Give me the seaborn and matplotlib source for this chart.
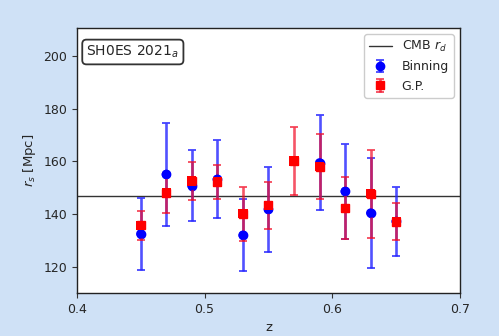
import matplotlib
matplotlib.use("Agg")
import matplotlib.pyplot as plt
import seaborn as sns
import pandas as pd

# Binning
z_bin = [0.45, 0.47, 0.49, 0.51, 0.53, 0.55, 0.59, 0.61, 0.63, 0.65]
rs_bin = [132.6, 155.1, 150.9, 153.3, 132.1, 141.9, 159.5, 148.7, 140.5, 137.3]
err_bin = [13.7, 19.6, 13.5, 14.8, 13.7, 16.0, 18.0, 17.9, 21.0, 13.0]

# Gaussian process
z_gp = [0.45, 0.47, 0.49, 0.51, 0.53, 0.55, 0.57, 0.59, 0.61, 0.63, 0.65]
rs_gp = [135.8, 148.1, 152.6, 152.2, 140.2, 143.4, 160.2, 158.0, 142.3, 147.8, 137.2]
err_gp = [5.4, 7.5, 7.1, 6.3, 10.3, 9.0, 12.8, 12.3, 11.7, 16.6, 7.0]

rd_cmb = 147.09
label_text = r"SH0ES 2021$_a$"

df_bin = pd.DataFrame({"z": z_bin, "rs": rs_bin})
df_gp = pd.DataFrame({"z": z_gp, "rs": rs_gp})

sns.set_style("ticks")
plt.rcParams["font.family"] = ["DejaVu Sans"]

fig = plt.figure(figsize=(4.99, 3.36), dpi=100, facecolor="#cfe1f6")
ax = fig.add_axes([0.154, 0.128, 0.768, 0.789])
ax.set_facecolor("white")

ax.axhline(rd_cmb, color="#333333", lw=1.0, label=r"CMB $r_d$", zorder=1)

eb1 = ax.errorbar(z_bin, rs_bin, yerr=err_bin, fmt="o", color="blue", ms=6,
                  ecolor=(0.15, 0.15, 1.0, 0.8), elinewidth=1.9, capsize=3,
                  capthick=1.4, label="Binning", zorder=2)
eb2 = ax.errorbar(z_gp, rs_gp, yerr=err_gp, fmt="s", color="red", ms=6,
                  ecolor=(0.95, 0.05, 0.15, 0.7), elinewidth=1.9, capsize=3,
                  capthick=1.4, label="G.P.", zorder=3)
sns.scatterplot(data=df_bin, x="z", y="rs", ax=ax, color="blue", marker="o",
                s=44, edgecolor="none", zorder=4, legend=False)
sns.scatterplot(data=df_gp, x="z", y="rs", ax=ax, color="red", marker="s",
                s=44, edgecolor="none", zorder=5, legend=False)

ax.set_xlim(0.4, 0.7)
ax.set_ylim(110.2, 210.6)
ax.set_xticks([0.4, 0.5, 0.6, 0.7])
ax.set_yticks([120, 140, 160, 180, 200])
ax.tick_params(labelsize=9, length=3.5, color="#333333")
ax.set_xlabel("z", fontsize=9.5)
ax.set_ylabel(r"$r_s$ [Mpc]", fontsize=9.5)
for s in ax.spines.values():
    s.set_color("#222222")
    s.set_linewidth(1.0)

ax.text(0.025, 0.94, label_text, transform=ax.transAxes, fontsize=10,
        va="top", ha="left",
        bbox=dict(boxstyle="round,pad=0.3", fc="white", ec="#333333", lw=1.3))

ax.legend(loc="upper right", fontsize=9, frameon=True, framealpha=1,
          edgecolor="#cccccc", fancybox=True, handlelength=1.8)

fig.savefig("out.png", dpi=100, facecolor=fig.get_facecolor())
